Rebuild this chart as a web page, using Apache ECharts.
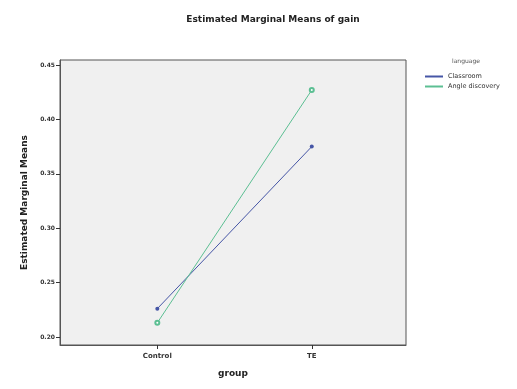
<!DOCTYPE html>
<html>
<head>
<meta charset="utf-8">
<script src="https://cdn.jsdelivr.net/npm/echarts@6/dist/echarts.min.js"></script>
<style>
  html, body { margin: 0; padding: 0; background: #fff; }
  #chart { width: 517px; height: 389px; }
</style>
</head>
<body>
<div id="chart"></div>
<script>
const groups = ['Control', 'TE'];
const yTicks = [0.20, 0.25, 0.30, 0.35, 0.40, 0.45];
const seriesNames = ['Classroom', 'Angle discovery'];
const classroomMeans = [0.226, 0.375];
const angleMeans = [0.213, 0.427];

const chart = echarts.init(document.getElementById('chart'));

const lineColors = ['#4656a6', '#5cbf93'];

chart.setOption({
  animation: false,
  title: {
    text: 'Estimated Marginal Means of gain',
    left: 268,
    top: 10,
    textAlign: 'center',
    textStyle: { fontFamily: 'DejaVu Sans', fontSize: 9, fontWeight: 'bold', color: '#222' }
  },
  legend: {
    orient: 'vertical',
    left: 420,
    top: 68,
    itemWidth: 18,
    itemHeight: 2,
    itemGap: 3,
    icon: 'rect',
    textStyle: { fontFamily: 'DejaVu Sans', fontSize: 6.5, color: '#333' },
    data: seriesNames
  },
  graphic: [{
    type: 'text',
    left: 452,
    top: 58,
    style: { text: 'language', font: '6px DejaVu Sans', fill: '#555', textAlign: 'center' }
  }],
  grid: {
    left: 60, right: 111, top: 60, bottom: 44,
    show: true,
    backgroundColor: '#f0f0f0',
    borderColor: '#555',
    borderWidth: 1
  },
  xAxis: {
    type: 'value',
    min: -0.63,
    max: 1.61,
    name: 'group',
    nameLocation: 'middle',
    nameGap: 24,
    nameTextStyle: { fontFamily: 'DejaVu Sans', fontSize: 9, fontWeight: 'bold', color: '#222' },
    splitLine: { show: false },
    axisLine: { show: true, onZero: false, lineStyle: { color: '#555' } },
    axisTick: { show: true, length: 4, customValues: [0, 1], lineStyle: { color: '#333' } },
    axisLabel: {
      customValues: [0, 1],
      formatter: v => groups[Math.round(v)],
      fontFamily: 'DejaVu Sans', fontSize: 7, fontWeight: 'bold', color: '#333', margin: 8
    }
  },
  yAxis: {
    type: 'value',
    min: 0.1926,
    max: 0.4546,
    name: 'Estimated Marginal Means',
    nameLocation: 'middle',
    nameGap: 29,
    nameTextStyle: { fontFamily: 'DejaVu Sans', fontSize: 9, fontWeight: 'bold', color: '#222' },
    splitLine: { show: false },
    axisLine: { show: true, onZero: false, lineStyle: { color: '#555' } },
    axisTick: { show: true, length: 4, customValues: yTicks, lineStyle: { color: '#333' } },
    axisLabel: {
      customValues: yTicks,
      formatter: v => v.toFixed(2),
      fontFamily: 'DejaVu Sans', fontSize: 6, fontWeight: 'bold', color: '#333', margin: 5
    }
  },
  series: [
    {
      name: seriesNames[0],
      type: 'line',
      data: classroomMeans.map((v, i) => [i, v]),
      symbol: 'circle',
      symbolSize: 4,
      lineStyle: { width: 1, color: lineColors[0] },
      itemStyle: { color: lineColors[0] }
    },
    {
      name: seriesNames[1],
      type: 'line',
      data: angleMeans.map((v, i) => [i, v]),
      symbol: 'emptyCircle',
      symbolSize: 4,
      lineStyle: { width: 1, color: lineColors[1] },
      itemStyle: { color: lineColors[1] }
    }
  ]
});
</script>
</body>
</html>
